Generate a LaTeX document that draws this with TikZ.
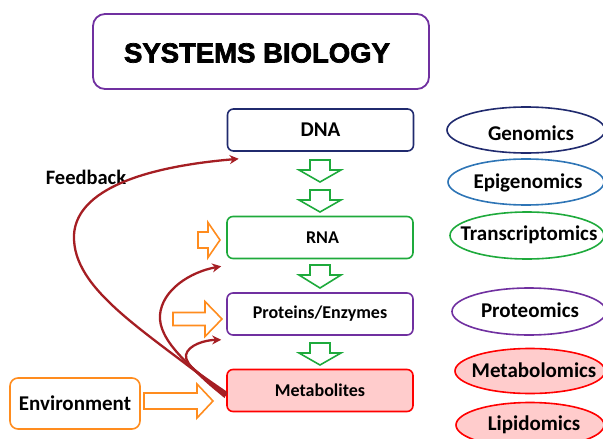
\documentclass[tikz,border=0pt]{standalone}
\usepackage{fontspec}
\setmainfont{Carlito}
\newfontfamily\titlefont[BoldFeatures={FakeBold=2.5}]{Liberation Sans}
\usetikzlibrary{arrows.meta,shapes.geometric}
\definecolor{navy}{RGB}{32,42,110}
\definecolor{epiblue}{RGB}{46,117,182}
\definecolor{mygreen}{RGB}{30,170,60}
\definecolor{mypurple}{RGB}{112,48,160}
\definecolor{myred}{RGB}{255,0,0}
\definecolor{mypink}{RGB}{255,204,204}
\definecolor{myorange}{RGB}{255,140,30}
\definecolor{fbred}{RGB}{165,30,35}
\tikzset{
  box/.style={draw, rounded corners=6pt, line width=1.6pt, minimum width=186pt,
    minimum height=42pt, inner sep=0pt, font=\fontsize{18}{21}\selectfont\bfseries},
  omic/.style={ellipse, draw, line width=1.6pt, inner sep=0pt},
  omictext/.style={inner sep=0pt, font=\fontsize{21}{24}\selectfont\bfseries},
  fb/.style={draw=fbred, line width=2.3pt, -{Stealth[length=9pt,width=9pt]}},
  garrow/.style={draw=mygreen, line width=1.6pt, fill=white, line join=miter},
  oarrow/.style={draw=myorange, line width=1.6pt, fill=white, line join=miter}
}
% hollow block arrow pointing down: x centre, y top, y head base, y tip
\newcommand\gdownarrow[4]{%
  \draw[garrow] (#1-10,#2) -- (#1+10,#2) -- (#1+10,#3) -- (#1+21,#3) -- (#1,#4)
    -- (#1-21,#3) -- (#1-10,#3) -- cycle;}
% hollow block arrow pointing right: x start, x head base, x tip, y centre, body half, head half
\newcommand\orightarrow[6]{%
  \draw[oarrow] (#1,#4-#5) -- (#2,#4-#5) -- (#2,#4-#6) -- (#3,#4) -- (#2,#4+#6)
    -- (#2,#4+#5) -- (#1,#4+#5) -- cycle;}
\begin{document}
\begin{tikzpicture}[x=1pt,y=-1pt]
\useasboundingbox (0,0) rectangle (603,439);
% title
\node[draw=mypurple, line width=1.8pt, rounded corners=12pt, minimum width=336pt,
  minimum height=75pt] (title) at (261,51.5) {};
\node[font=\titlefont\fontsize{27.5}{32}\selectfont\bfseries] (titletext)
  at (257,53) {SYSTEMS BIOLOGY};
% central boxes
\node[box, draw=navy, font=\fontsize{21}{24}\selectfont\bfseries] (dna) at (320.5,130) {DNA\hspace{5pt}};
\node[box, draw=mygreen] (rna) at (320,237.5) {\hspace{5pt}RNA};
\node[box, draw=mypurple] (prot) at (320,314) {Proteins/Enzymes\hspace{18pt}};
\node[box, draw=myred, fill=mypink] (met) at (320,390.5) {Metabolites};
% environment
\node[draw=myorange, line width=1.6pt, rounded corners=8pt, minimum width=130pt,
  minimum height=51pt, inner sep=0pt, font=\fontsize{21}{24}\selectfont\bfseries]
  (env) at (75,403.5) {Environment};
% green flow arrows
\gdownarrow{320}{160}{170}{182}
\gdownarrow{320}{190}{200}{212}
\gdownarrow{320}{265}{275}{288}
\gdownarrow{320}{343}{353}{365}
% orange input arrows
\orightarrow{144}{197}{213}{401}{8}{17}
\orightarrow{173}{205}{222}{319}{6.5}{17.5}
\orightarrow{198}{208}{220}{240}{8}{17.5}
% omics ellipses
\node[omic, draw=navy, minimum width=158pt, minimum height=46pt] (gen) at (526,130) {};
\node[omictext] (gentext) at (531,133) {Genomics};
\node[omic, draw=epiblue, minimum width=156pt, minimum height=46pt] (epi) at (526,182) {};
\node[omictext] (epitext) at (528,183) {Epigenomics};
\node[omic, draw=mygreen, minimum width=154pt, minimum height=47pt] (tra) at (527,235.5) {};
\node[omictext] (tratext) at (529,235) {Transcriptomics};
\node[omic, draw=mypurple, minimum width=154pt, minimum height=47pt] (pro) at (529,311.5) {};
\node[omictext] (protext) at (530,310) {Proteomics};
\node[omic, draw=myred, fill=mypink, minimum width=150pt, minimum height=45pt] (metab) at (530,371) {};
\node[omictext] (metabtext) at (534,370) {Metabolomics};
\node[omic, draw=myred, fill=mypink, minimum width=148pt, minimum height=45pt] (lip) at (530,425) {};
\node[omictext] (liptext) at (534,425) {Lipidomics};
% feedback
\node[inner sep=0pt, font=\fontsize{20.5}{24}\selectfont\bfseries] (fbtext) at (86,177) {Feedback};
\coordinate (conv) at (226,395);
\draw[fb] (conv) .. controls (146,331) and (72,290) .. (74,235)
  .. controls (76,195) and (130,168) .. ([xshift=12pt,yshift=-7pt]dna.south west);
\draw[fb] (conv) .. controls (190,368) and (158,340) .. (160,315)
  .. controls (162,290) and (190,272) .. ([xshift=-5pt,yshift=-7pt]rna.south west);
\draw[fb] (conv) .. controls (200,375) and (185,365) .. (186,355)
  .. controls (188,345) and (205,340) .. ([xshift=-5pt,yshift=-4pt]prot.south west);
\fill[fbred] (227.5,392) .. controls (210,380) .. (185,362) .. controls (205,382) .. (224.5,398) -- cycle;
\end{tikzpicture}
\end{document}
